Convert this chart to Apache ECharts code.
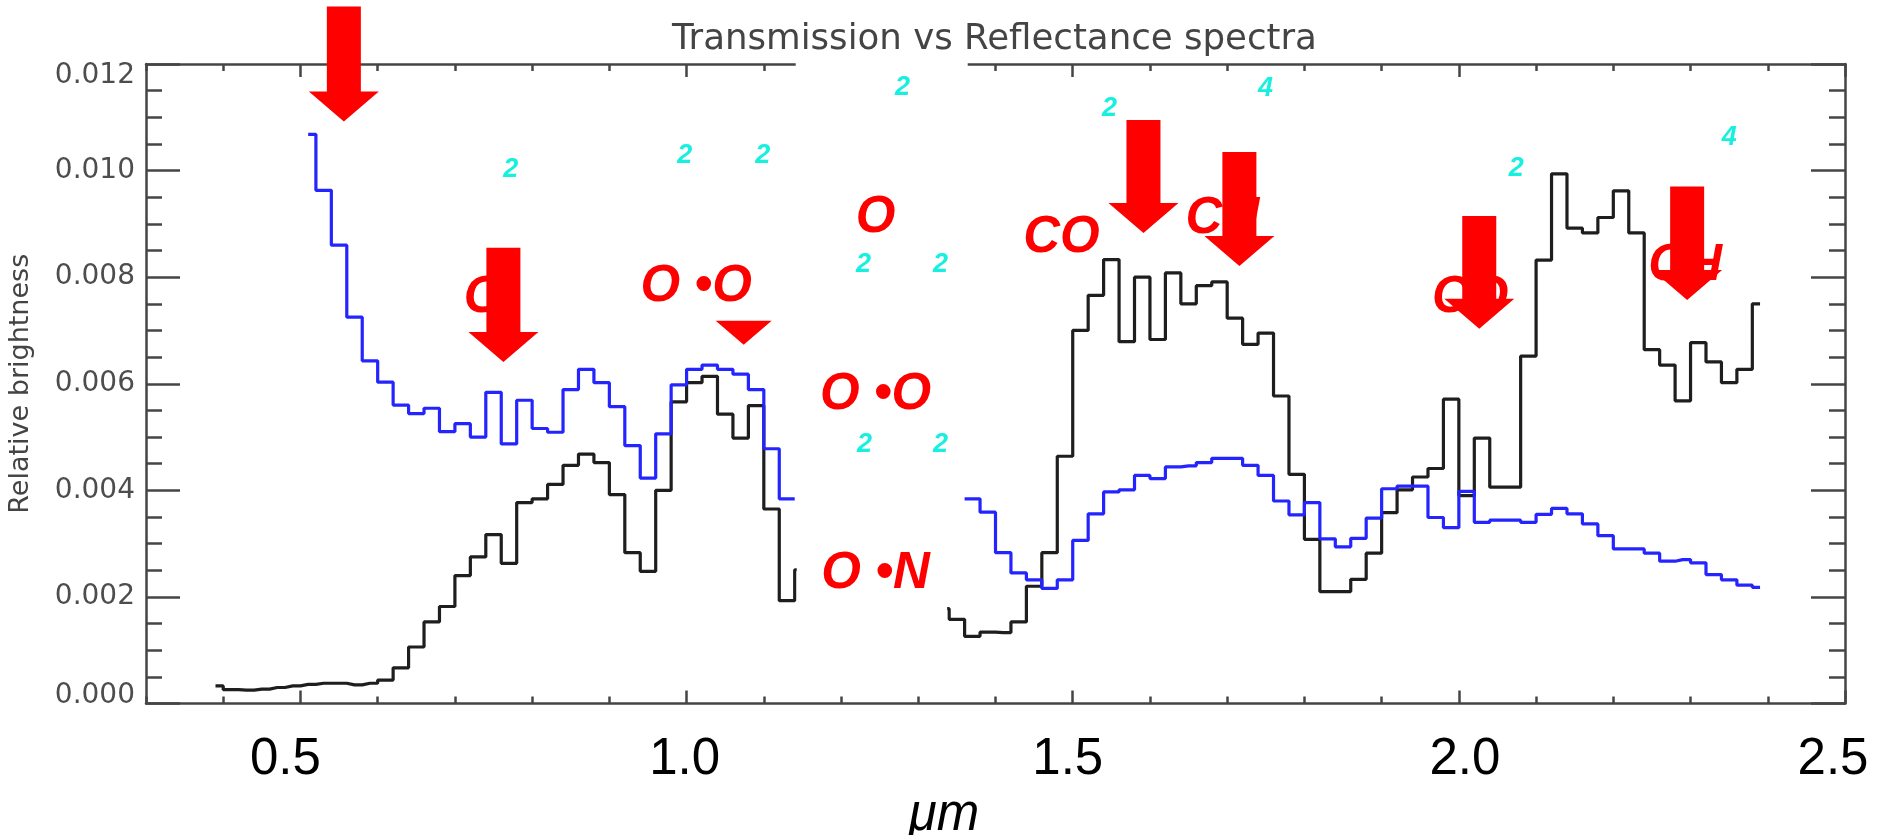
<!DOCTYPE html>
<html>
<head>
<meta charset="utf-8">
<script src="https://cdn.jsdelivr.net/npm/echarts@6/dist/echarts.min.js"></script>
<style>
html,body{margin:0;padding:0;background:#ffffff;}
#chart{width:1879px;height:835px;}
</style>
</head>
<body>
<div id="chart"></div>
<script>
// ---------------- DATA ----------------
const chartTitle = 'Transmission vs Reflectance spectra';
const yAxisName = 'Relative brightness';
const xAxisName = 'μm';

// Transmission spectrum (black), bin centres in μm
const wavelengthsT = [0.39,0.41,0.43,0.45,0.47,0.49,0.51,0.53,0.55,0.57,0.59,0.61,0.63,0.65,0.67,0.69,0.71,0.73,0.75,0.77,0.79,0.81,0.83,0.85,0.87,0.89,0.91,0.93,0.95,0.97,0.99,
1.01,1.03,1.05,1.07,1.09,1.11,1.13,1.15,1.17,1.19,1.21,1.23,1.25,1.27,1.29,1.31,1.33,1.35,1.37,1.39,1.41,1.43,1.45,1.47,1.49,1.51,1.53,1.55,1.57,1.59,1.61,1.63,1.65,1.67,1.69,1.71,1.73,1.75,1.77,1.79,1.81,1.83,1.85,1.87,1.89,1.91,1.93,1.95,1.97,1.99,
2.01,2.03,2.05,2.07,2.09,2.11,2.13,2.15,2.17,2.19,2.21,2.23,2.25,2.27,2.29,2.31,2.33,2.35,2.37,2.39];
const transmission = [0.00033,0.00026,0.00025,0.00027,0.00030,0.00033,0.00036,0.00038,0.00038,0.00035,0.00038,0.00044,0.00067,0.00106,0.00153,0.00182,0.00240,0.00275,0.00317,0.00263,0.00377,0.00384,0.00411,0.00447,0.00468,0.00452,0.00392,0.00283,0.00248,0.00400,0.00566,
0.00602,0.00614,0.00543,0.00498,0.00559,0.00365,0.00193,0.00251,null,null,null,null,null,null,null,null,0.00178,0.00158,0.00126,0.00134,0.00133,0.00153,0.00220,0.00283,0.00464,0.00700,0.00766,0.00833,0.00679,0.00800,0.00683,0.00808,0.00750,0.00784,0.00791,0.00723,0.00674,0.00695,0.00577,0.00430,0.00308,0.00210,0.00210,0.00233,0.00282,0.00358,0.00401,0.00425,0.00441,0.00571,
0.00390,0.00498,0.00406,0.00406,0.00652,0.00832,0.00994,0.00892,0.00883,0.00912,0.00962,0.00883,0.00664,0.00635,0.00568,0.00677,0.00641,0.00602,0.00627,0.00750];

// Reflectance spectrum (blue)
const wavelengthsR = [0.51,0.53,0.55,0.57,0.59,0.61,0.63,0.65,0.67,0.69,0.71,0.73,0.75,0.77,0.79,0.81,0.83,0.85,0.87,0.89,0.91,0.93,0.95,0.97,0.99,
1.01,1.03,1.05,1.07,1.09,1.11,1.13,1.15,1.17,1.19,1.21,1.23,1.25,1.27,1.29,1.31,1.33,1.35,1.37,1.39,1.41,1.43,1.45,1.47,1.49,1.51,1.53,1.55,1.57,1.59,1.61,1.63,1.65,1.67,1.69,1.71,1.73,1.75,1.77,1.79,1.81,1.83,1.85,1.87,1.89,1.91,1.93,1.95,1.97,1.99,
2.01,2.03,2.05,2.07,2.09,2.11,2.13,2.15,2.17,2.19,2.21,2.23,2.25,2.27,2.29,2.31,2.33,2.35,2.37,2.39];
const reflectance = [0.01068,0.00963,0.00860,0.00725,0.00643,0.00603,0.00560,0.00544,0.00554,0.00510,0.00525,0.00500,0.00584,0.00487,0.00569,0.00516,0.00509,0.00589,0.00627,0.00602,0.00557,0.00484,0.00423,0.00506,0.00598,
0.00627,0.00635,0.00627,0.00618,0.00589,0.00478,0.00384,null,null,null,null,null,null,null,null,null,null,null,0.00384,0.00359,0.00283,0.00245,0.00232,0.00216,0.00232,0.00306,0.00356,0.00397,0.00401,0.00428,0.00422,0.00444,0.00446,0.00452,0.00460,0.00460,0.00447,0.00428,0.00380,0.00354,0.00377,0.00309,0.00294,0.00310,0.00348,0.00403,0.00408,0.00408,0.00349,0.00330,
0.00398,0.00340,0.00344,0.00344,0.00340,0.00355,0.00366,0.00356,0.00337,0.00315,0.00290,0.00290,0.00282,0.00267,0.00270,0.00264,0.00242,0.00232,0.00222,0.00218];

// Tick values
const xMajorTicks = [0.5, 1.0, 1.5, 2.0, 2.5];
const xMinorTicks = [0.3,0.4,0.5,0.6,0.7,0.8,0.9,1.0,1.1,1.2,1.3,1.4,1.5,1.6,1.7,1.8,1.9,2.0,2.1,2.2,2.3,2.4,2.5];
const yMin = 0, yMax = 0.012, yStep = 0.002;

// Annotations (anchored in data coordinates: μm, brightness)
const gapStart = 1.14, gapEndData = 1.34, gapEndAxis = 1.364;
const redLabels = [
  {text:'O', x:0.737, y:0.00769},
  {text:'O •O', x:1.0124, y:0.00790},
  {text:'O', x:1.2447, y:0.00919},
  {text:'O •O', x:1.2447, y:0.00586},
  {text:'O •N', x:1.2447, y:0.00251},
  {text:'CO', x:1.4855, y:0.00881},
  {text:'CH', x:1.6938, y:0.00917},
  {text:'CO', x:2.0147, y:0.00769},
  {text:'CH', x:2.2930, y:0.00828}
];
const cyanLabels = [
  {text:'2', x:0.7724, y:0.01005},
  {text:'2', x:0.9976, y:0.01032},
  {text:'2', x:1.0985, y:0.01032},
  {text:'2', x:1.2797, y:0.01159},
  {text:'2', x:1.2292, y:0.00827},
  {text:'2', x:1.3289, y:0.00827},
  {text:'2', x:1.2305, y:0.00489},
  {text:'2', x:1.3289, y:0.00489},
  {text:'2', x:1.5476, y:0.01120},
  {text:'4', x:1.7495, y:0.01157},
  {text:'2', x:2.0743, y:0.01007},
  {text:'4', x:2.3500, y:0.01065}
];
const arrows = [
  {x:0.5562, tip:0.01092, top:0.01308},
  {x:0.7628, tip:0.00641, top:0.00855},
  {x:1.0739, tip:0.00673, top:null},
  {x:1.5916, tip:0.00883, top:0.01095},
  {x:1.7158, tip:0.00821, top:0.01035},
  {x:2.0264, tip:0.00703, top:0.00915},
  {x:2.2956, tip:0.00757, top:0.00970}
];

// ---------------- STYLE ----------------
const axisStyle = {color:'#454545', width:2.5};
const labelFont = '"Liberation Sans", Arial, sans-serif';
const idlFont = '"DejaVu Sans", sans-serif';
const xLabelShift = [-15, -2, -5, 6, -12];
const xRich = {};
xMajorTicks.forEach((v, i) => {
  const d = xLabelShift[i];
  xRich['k' + i] = {
    fontSize: 51, fontFamily: labelFont, color: '#000',
    padding: d < 0 ? [0, -2 * d, 0, 0] : [0, 0, 0, 2 * d]
  };
});
const yLabelBase = {fontSize: 28, fontFamily: idlFont, color: '#4d4d4d'};

function xAx(position, ticks, len, extra) {
  return Object.assign({
    type: 'value', position: position, min: 0.3, max: 2.5,
    axisLine: {show: false, onZero: false, lineStyle: axisStyle},
    axisTick: {show: true, inside: true, length: len, customValues: ticks, lineStyle: axisStyle},
    axisLabel: {show: false},
    splitLine: {show: false}
  }, extra || {});
}
function yAx(position, extra) {
  return Object.assign({
    type: 'value', position: position, min: yMin, max: yMax, interval: yStep,
    axisLine: {show: true, onZero: false, lineStyle: axisStyle},
    axisTick: {show: true, inside: true, length: 34, lineStyle: axisStyle},
    minorTick: {show: true, splitNumber: 4, length: 16, lineStyle: axisStyle},
    axisLabel: {show: false},
    splitLine: {show: false},
    minorSplitLine: {show: false}
  }, extra || {});
}

const chart = echarts.init(document.getElementById('chart'), null, {renderer: 'canvas'});

const option = {
  animation: false,
  backgroundColor: '#ffffff',
  title: {
    text: chartTitle, left: 672, top: 22, padding: 0,
    textStyle: {fontFamily: idlFont, fontSize: 35.6, fontWeight: 'normal', color: '#444444'}
  },
  grid: {left: 146, right: 34, top: 64, bottom: 131.5, containLabel: false, outerBoundsMode: 'none'},
  xAxis: [
    xAx('bottom', xMinorTicks, 7, {
      axisLine: {show: true, onZero: false, lineStyle: axisStyle},
      axisLabel: {
        show: true, customValues: xMajorTicks, margin: 31,
        formatter: function (v) {
          const i = xMajorTicks.findIndex(t => Math.abs(t - v) < 1e-6);
          return '{k' + (i < 0 ? 0 : i) + '|' + v.toFixed(1) + '}';
        },
        rich: xRich
      },
      name: xAxisName, nameLocation: 'middle', nameGap: 72,
      nameTextStyle: {fontSize: 51, fontStyle: 'italic', fontFamily: labelFont, color: '#000', padding: [0, 103, 0, 0]}
    }),
    xAx('bottom', xMajorTicks, 13),
    xAx('top', xMinorTicks, 7, {axisLine: {show: true, onZero: false, lineStyle: axisStyle}}),
    xAx('top', xMajorTicks, 13)
  ],
  yAxis: [
    yAx('left', {
      axisLabel: {
        show: true, margin: 11,
        formatter: function (v) {
          const s = v.toFixed(3);
          if (s === '0.012') return '{t|' + s + '}';
          if (s === '0.000') return '{b|' + s + '}';
          return '{n|' + s + '}';
        },
        rich: {
          t: Object.assign({padding: [24, 0, 0, 0]}, yLabelBase),
          b: Object.assign({padding: [0, 0, 16, 0]}, yLabelBase),
          n: Object.assign({}, yLabelBase)
        }
      },
      name: yAxisName, nameLocation: 'middle', nameGap: 112, nameRotate: 90,
      nameTextStyle: {fontSize: 27, fontFamily: idlFont, color: '#444'}
    }),
    yAx('right')
  ],
  series: [
    {
      name: 'Transmission', type: 'line', step: 'middle',
      xAxisIndex: 0, yAxisIndex: 0,
      data: wavelengthsT.map((w, i) => [w, transmission[i]]),
      showSymbol: false, symbol: 'none', connectNulls: false,
      lineStyle: {color: '#1e1e1e', width: 3.2}, itemStyle: {color: '#1e1e1e'}, z: 2
    },
    {
      name: 'Reflectance', type: 'line', step: 'middle',
      xAxisIndex: 0, yAxisIndex: 0,
      data: wavelengthsR.map((w, i) => [w, reflectance[i]]),
      showSymbol: false, symbol: 'none', connectNulls: false,
      lineStyle: {color: '#2424ff', width: 3.2}, itemStyle: {color: '#2424ff'}, z: 3
    }
  ]
};
chart.setOption(option);

// ---------------- ANNOTATIONS ----------------
function px(x, y) { return chart.convertToPixel({xAxisIndex: 0, yAxisIndex: 0}, [x, y]); }
const g = [];
const plotTop = px(0.3, yMax)[1], plotBottom = px(0.3, yMin)[1];
const gx1 = px(gapStart, 0)[0], gx2 = px(gapEndData, 0)[0], gx3 = px(gapEndAxis, 0)[0];
// white boxes (as in the original figure) over the gap
g.push({type: 'rect', silent: true, z: 50,
  shape: {x: gx1 + 2, y: plotTop + 6, width: gx2 - gx1 - 4, height: plotBottom - plotTop - 30},
  style: {fill: '#ffffff'}});
g.push({type: 'rect', silent: true, z: 50,
  shape: {x: gx1 + 1, y: plotTop - 8, width: gx3 - gx1 - 1, height: 24},
  style: {fill: '#ffffff'}});

redLabels.forEach(l => {
  const p = px(l.x, l.y);
  g.push({type: 'text', x: p[0], y: p[1] + 4, silent: true, z: 60,
    style: {text: l.text, font: 'italic bold 51px ' + labelFont, fill: '#ff0000',
      textAlign: 'center', textVerticalAlign: 'middle', align: 'center', verticalAlign: 'middle'}});
});
arrows.forEach(a => {
  const p = px(a.x, a.tip);
  const tx = p[0], ty = p[1];
  let pts;
  if (a.top !== null) {
    const t = px(a.x, a.top)[1];
    pts = [[tx - 17, t], [tx + 17, t], [tx + 17, ty - 30], [tx + 35, ty - 30], [tx, ty], [tx - 35, ty - 30], [tx - 17, ty - 30]];
  } else {
    pts = [[tx - 28, ty - 24], [tx + 28, ty - 24], [tx, ty]];
  }
  g.push({type: 'polygon', silent: true, z: 70, shape: {points: pts}, style: {fill: '#ff0000'}});
});
cyanLabels.forEach(l => {
  const p = px(l.x, l.y);
  g.push({type: 'text', x: p[0], y: p[1] + 2, silent: true, z: 80,
    style: {text: l.text, font: 'italic bold 27px ' + labelFont, fill: '#17f0df',
      textAlign: 'center', textVerticalAlign: 'middle', align: 'center', verticalAlign: 'middle'}});
});
chart.setOption({graphic: g});
</script>
</body>
</html>
